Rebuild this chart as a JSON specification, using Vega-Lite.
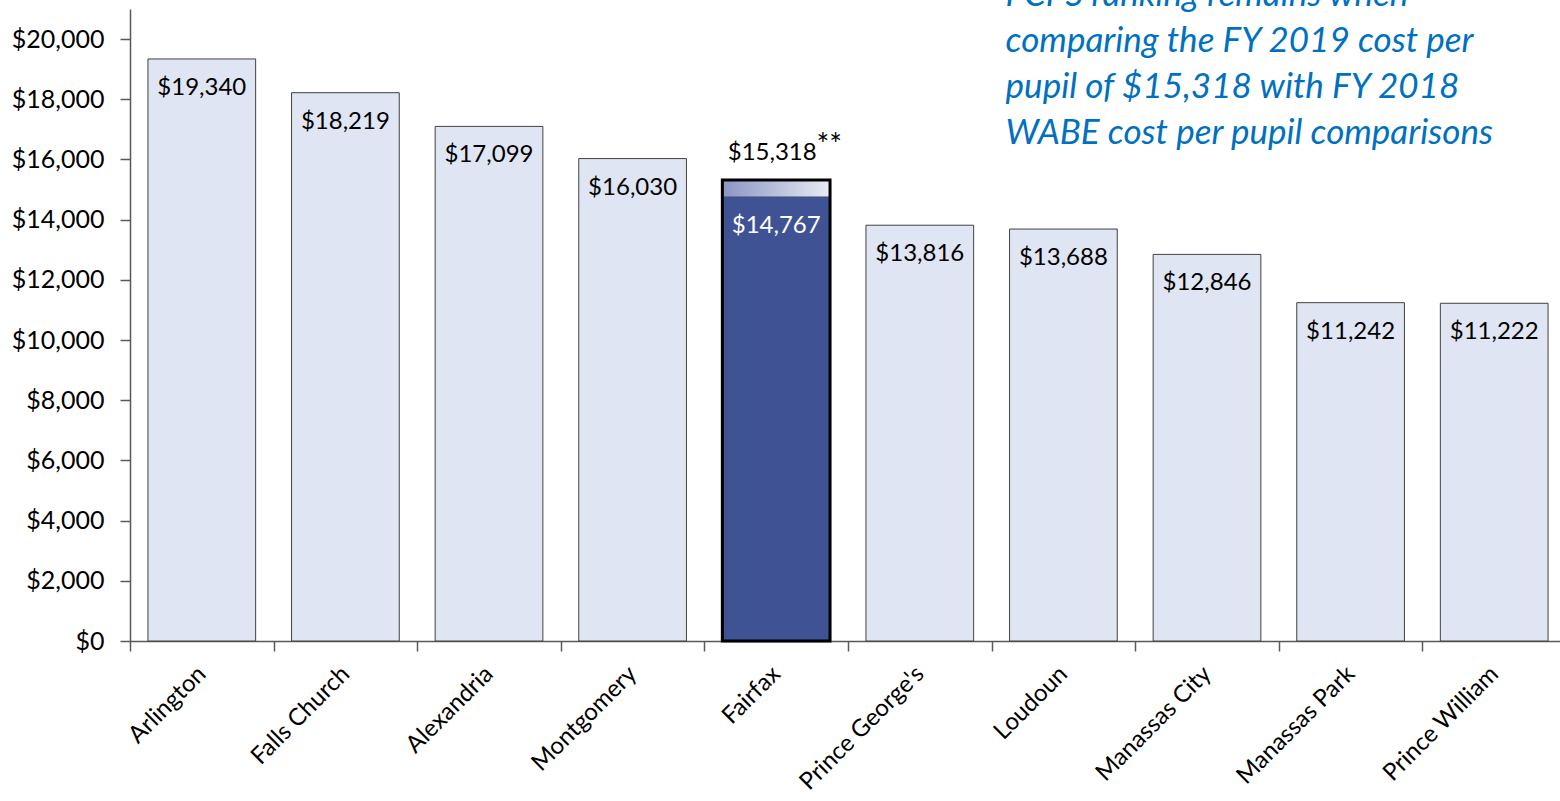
{
  "$schema": "https://vega.github.io/schema/vega-lite/v6.json",
  "width": 1436,
  "height": 632,
  "autosize": {"type": "none"},
  "padding": {"left": 130, "top": 9, "right": 0, "bottom": 160},
  "background": "white",
  "config": {
    "view": {"stroke": null},
    "font": "Lato",
    "axis": {"labelFont": "Lato", "labelColor": "#000000", "domainColor": "#595959", "tickColor": "#595959", "domainWidth": 1.5, "tickWidth": 1.5, "grid": false}
  },
  "data": {
    "values": [
      {"county": "Arlington", "cost": 19340},
      {"county": "Falls Church", "cost": 18219},
      {"county": "Alexandria", "cost": 17099},
      {"county": "Montgomery", "cost": 16030},
      {"county": "Fairfax", "cost": 14767, "fy2019": 15318},
      {"county": "Prince George's", "cost": 13816},
      {"county": "Loudoun", "cost": 13688},
      {"county": "Manassas City", "cost": 12846},
      {"county": "Manassas Park", "cost": 11242},
      {"county": "Prince William", "cost": 11222}
    ]
  },
  "encoding": {
    "x": {
      "field": "county", "type": "nominal", "sort": null,
      "scale": {"paddingInner": 0, "paddingOuter": 0},
      "axis": {"title": null, "labelAngle": -45, "labelFontSize": 24, "tickBand": "extent", "tickSize": 10, "labelPadding": 19, "labelAlign": "right", "labelBaseline": "middle"}
    }
  },
  "layer": [
    {
      "mark": {"type": "bar", "width": {"band": 0.75}, "stroke": "#404040", "strokeWidth": 1},
      "encoding": {
        "y": {
          "field": "cost", "type": "quantitative",
          "scale": {"domain": [0, 21000], "nice": false},
          "axis": {"title": null, "values": [0, 2000, 4000, 6000, 8000, 10000, 12000, 14000, 16000, 18000, 20000], "format": "$,.0f", "labelFontSize": 25, "tickSize": 10, "labelPadding": 16}
        },
        "fill": {"condition": {"test": "datum.county === 'Fairfax'", "value": "#3F5394"}, "value": "#DFE5F2"}
      }
    },
    {
      "transform": [{"filter": "datum.county === 'Fairfax'"}],
      "mark": {"type": "bar", "width": {"band": 0.75}, "fill": {"gradient": "linear", "x1": 0, "x2": 1, "y1": 0, "y2": 0, "stops": [{"offset": 0, "color": "#8A95C4"}, {"offset": 1, "color": "#E8EBF4"}]}},
      "encoding": {
        "y": {"field": "cost", "type": "quantitative"},
        "y2": {"field": "fy2019"}
      }
    },
    {
      "transform": [{"filter": "datum.county === 'Fairfax'"}],
      "mark": {"type": "bar", "width": {"band": 0.75}, "fill": "transparent", "stroke": "#000000", "strokeWidth": 3},
      "encoding": {
        "y": {"field": "fy2019", "type": "quantitative"}
      }
    },
    {
      "mark": {"type": "text", "baseline": "alphabetic", "dy": 36, "fontSize": 24, "font": "Lato"},
      "encoding": {
        "y": {"field": "cost", "type": "quantitative"},
        "text": {"field": "cost", "type": "quantitative", "format": "$,.0f"},
        "color": {"condition": {"test": "datum.county === 'Fairfax'", "value": "#FFFFFF"}, "value": "#000000"}
      }
    },
    {
      "transform": [{"filter": "datum.county === 'Fairfax'"}],
      "mark": {"type": "text", "baseline": "alphabetic", "dy": -20, "dx": -4, "fontSize": 24, "font": "Lato", "color": "#000000"},
      "encoding": {
        "y": {"field": "fy2019", "type": "quantitative"},
        "text": {"field": "fy2019", "type": "quantitative", "format": "$,.0f"}
      }
    },
    {
      "transform": [{"filter": "datum.county === 'Fairfax'"}, {"calculate": "'**'", "as": "star"}],
      "mark": {"type": "text", "baseline": "alphabetic", "dy": -25, "dx": 53, "fontSize": 30, "font": "Lato", "color": "#000000"},
      "encoding": {
        "y": {"field": "fy2019", "type": "quantitative"},
        "text": {"field": "star"}
      }
    },
    {
      "data": {"values": [{"county": "Loudoun", "ypos": 21110, "note": "FCPS ranking remains when\ncomparing the FY 2019 cost per\npupil of $15,318 with FY 2018\nWABE cost per pupil comparisons"}]},
      "mark": {"type": "text", "align": "left", "baseline": "alphabetic", "dx": 14, "fontSize": 35, "fontStyle": "italic", "font": "Lato", "color": "#0070C0", "lineBreak": "\n", "lineHeight": 46},
      "encoding": {
        "x": {"field": "county", "type": "nominal", "bandPosition": 0},
        "y": {"field": "ypos", "type": "quantitative"},
        "text": {"field": "note"}
      }
    }
  ]
}
